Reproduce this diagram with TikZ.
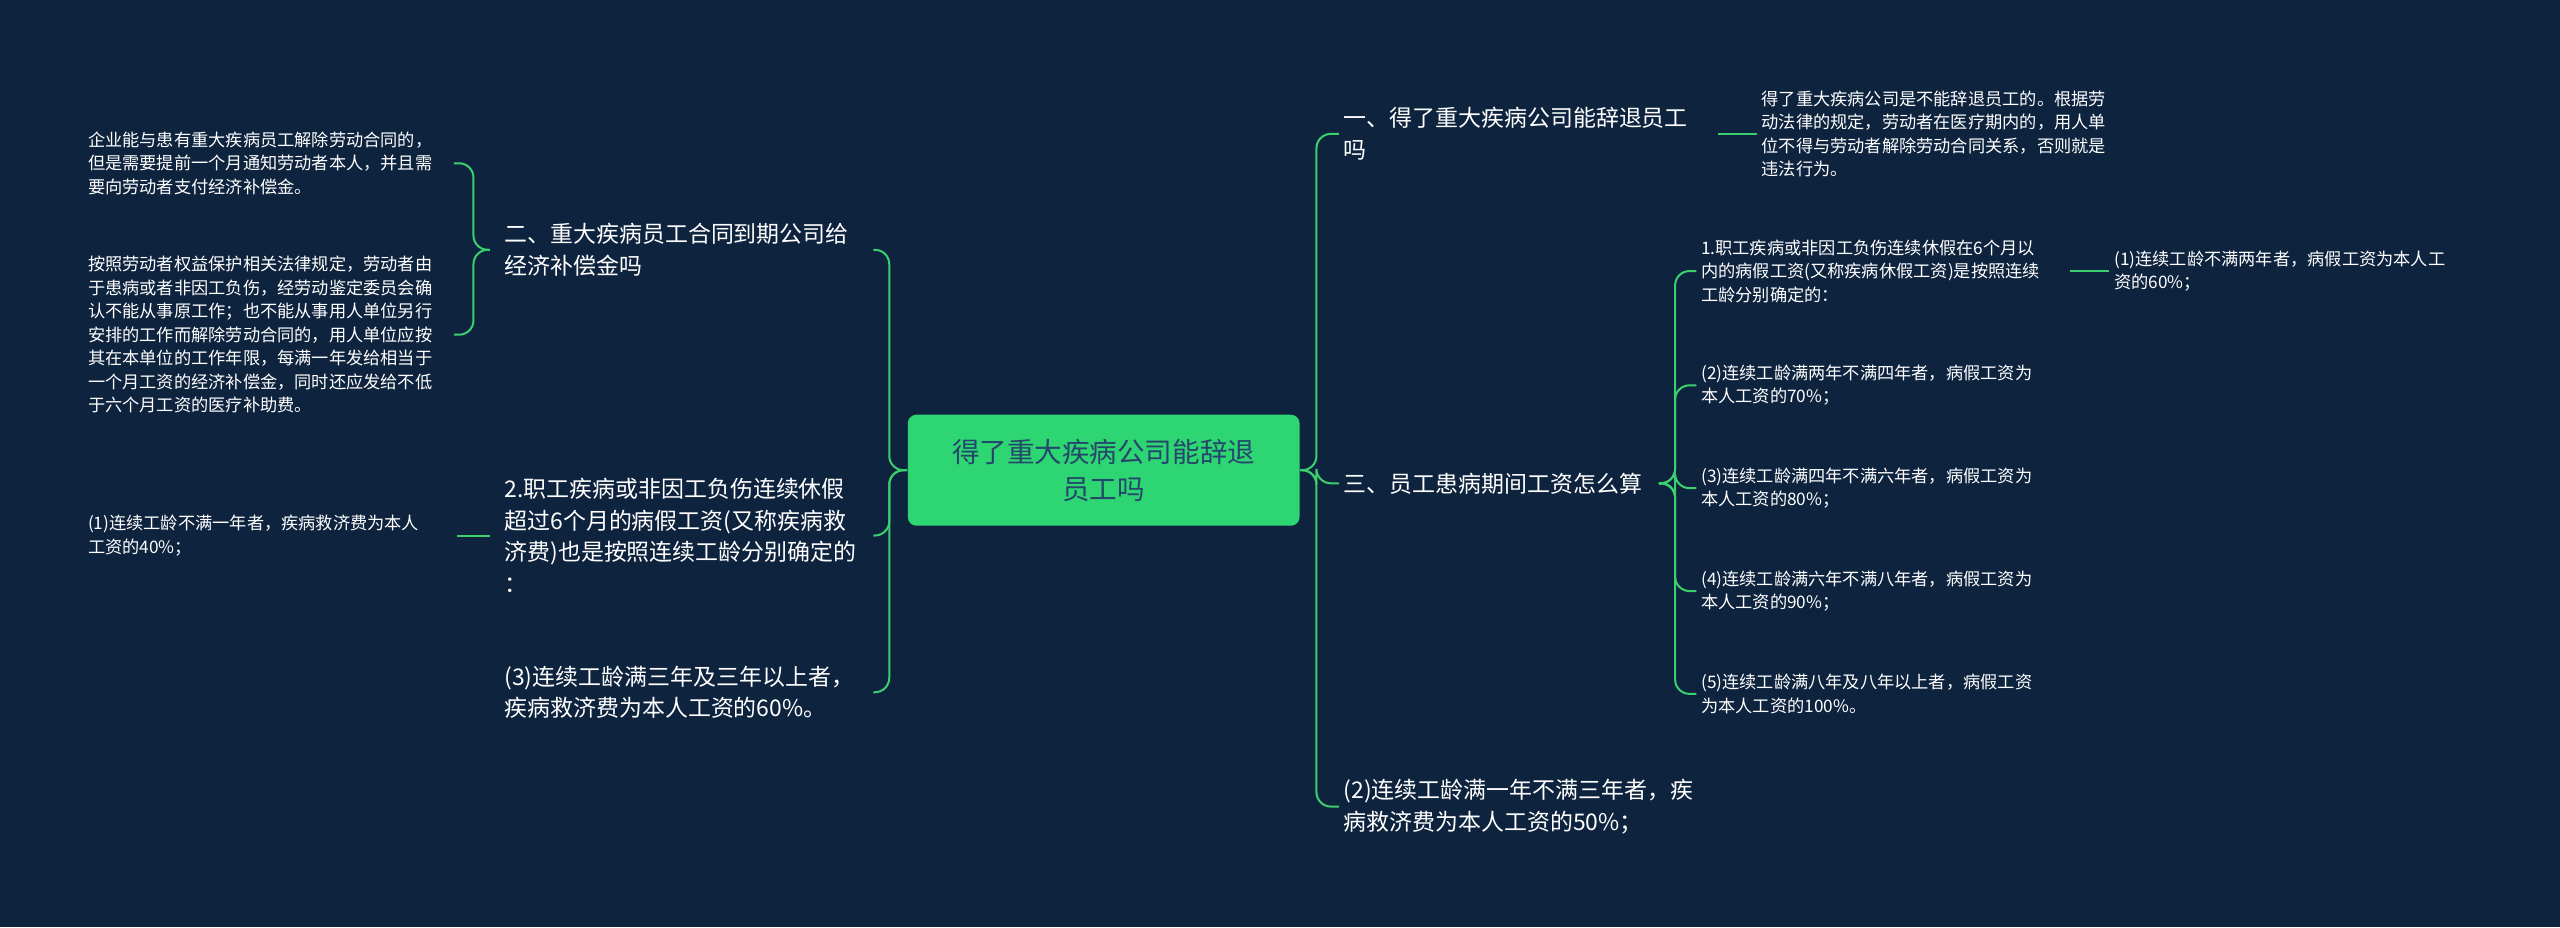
\documentclass[tikz,border=0pt]{standalone}
\usepackage{fontspec}
\setmainfont{Noto Sans CJK SC}
\definecolor{bgnavy}{HTML}{0E233E}
\definecolor{mapgreen}{HTML}{3CCF6E}
\definecolor{rootgreen}{HTML}{2ED573}
\definecolor{roottext}{HTML}{24476B}
\tikzset{
  rootbox/.style={fill=rootgreen, rounded corners=3pt, minimum width=4.8cm, minimum height=1.36cm, align=center, text=roottext, font=\fontsize{9.6}{13}\selectfont},
  topic/.style={anchor=west, align=left, text=white, inner sep=1.5pt, font=\fontsize{8}{11}\selectfont},
  leaf/.style={anchor=west, align=left, text=white, inner sep=1.5pt, font=\fontsize{6}{8.2}\selectfont},
  link/.style={draw=mapgreen, line width=0.7pt, rounded corners=5pt}
}
\begin{document}
\begin{tikzpicture}[x=0.02cm, y=-0.02cm]
\fill[bgnavy] (0,0) rectangle (1568,568);
\useasboundingbox (0,0) rectangle (1568,568);

\node[rootbox] (root) at (676,288) {得了重大疾病公司能辞退\\员工吗};

% right side
\node[topic] (r1) at (820,82) {一、得了重大疾病公司能辞退员工\\吗};
\node[leaf] (r1a) at (1076,82) {得了重大疾病公司是不能辞退员工的。根据劳\\动法律的规定，劳动者在医疗期内的，用人单\\位不得与劳动者解除劳动合同关系，否则就是\\违法行为。};
\node[topic] (r2) at (820,296) {三、员工患病期间工资怎么算};
\node[leaf] (r2a) at (1039,166) {1.职工疾病或非因工负伤连续休假在6个月以\\内的病假工资(又称疾病休假工资)是按照连续\\工龄分别确定的：};
\node[leaf] (r2a1) at (1292,166) {(1)连续工龄不满两年者，病假工资为本人工\\资的60\%；};
\node[leaf] (r2b) at (1039,236) {(2)连续工龄满两年不满四年者，病假工资为\\本人工资的70\%；};
\node[leaf] (r2c) at (1039,299) {(3)连续工龄满四年不满六年者，病假工资为\\本人工资的80\%；};
\node[leaf] (r2d) at (1039,362) {(4)连续工龄满六年不满八年者，病假工资为\\本人工资的90\%；};
\node[leaf] (r2e) at (1039,425) {(5)连续工龄满八年及八年以上者，病假工资\\为本人工资的100\%。};
\node[topic] (r3) at (820,494) {(2)连续工龄满一年不满三年者，疾\\病救济费为本人工资的50\%；};

% left side
\node[topic] (l1) at (306,153) {二、重大疾病员工合同到期公司给\\经济补偿金吗};
\node[leaf] (l1a) at (51,100) {企业能与患有重大疾病员工解除劳动合同的，\\但是需要提前一个月通知劳动者本人，并且需\\要向劳动者支付经济补偿金。};
\node[leaf] (l1b) at (51,205) {按照劳动者权益保护相关法律规定，劳动者由\\于患病或者非因工负伤，经劳动鉴定委员会确\\认不能从事原工作；也不能从事用人单位另行\\安排的工作而解除劳动合同的，用人单位应按\\其在本单位的工作年限，每满一年发给相当于\\一个月工资的经济补偿金，同时还应发给不低\\于六个月工资的医疗补助费。};
\node[topic] (l2) at (306,328) {2.职工疾病或非因工负伤连续休假\\超过6个月的病假工资(又称疾病救\\济费)也是按照连续工龄分别确定的\\：};
\node[leaf] (l2a) at (51,328) {(1)连续工龄不满一年者，疾病救济费为本人\\工资的40\%；};
\node[topic] (l3) at (306,424) {(3)连续工龄满三年及三年以上者，\\疾病救济费为本人工资的60\%。};

% connectors
\foreach \c in {r1,r2,r3}
  \draw[link] (root.east) -- ++(10,0) |- (\c.west);
\foreach \c in {l1,l2,l3}
  \draw[link] (root.west) -- ++(-11,0) |- (535,0 |- \c.west);
\draw[link] (1052,82) -- (r1a.west);
\foreach \c in {r2a,r2b,r2c,r2d,r2e}
  \draw[link] (1016,296) -- (1026,296) |- (\c.west);
\draw[link] (1268,166) -- (r2a1.west);
\foreach \c in {l1a,l1b}
  \draw[link] (300,153) -- (290,153) |- (278,0 |- \c.west);
\draw[link] (300,328) -- (280,328);
\end{tikzpicture}
\end{document}
